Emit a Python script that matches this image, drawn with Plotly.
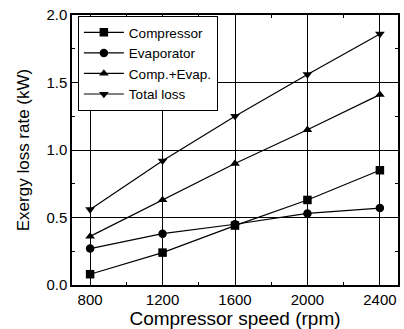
import plotly.graph_objects as go

speed = [800, 1200, 1600, 2000, 2400]
compressor = [0.08, 0.24, 0.44, 0.63, 0.85]
evaporator = [0.27, 0.38, 0.45, 0.53, 0.57]
comp_evap = [0.36, 0.63, 0.90, 1.15, 1.41]
total_loss = [0.56, 0.92, 1.25, 1.56, 1.86]

series = [
    ("Compressor", compressor, "square"),
    ("Evaporator", evaporator, "circle"),
    ("Comp.+Evap.", comp_evap, "triangle-up"),
    ("Total loss", total_loss, "triangle-down"),
]

fig = go.Figure()
for name, vals, sym in series:
    fig.add_trace(go.Scatter(
        x=speed, y=vals, name=name, mode="lines+markers",
        line=dict(color="black", width=1.2),
        marker=dict(symbol=sym, size=8.5, color="black"),
    ))

font = "Liberation Sans, Arial, sans-serif"
fig.update_layout(
    width=404, height=329,
    margin=dict(l=72, r=4, t=15, b=44),
    paper_bgcolor="white", plot_bgcolor="white",
    font=dict(family=font, color="black", size=15),
    showlegend=True,
    legend=dict(
        x=0.018, y=0.996, xanchor="left", yanchor="top",
        bordercolor="black", borderwidth=1, bgcolor="white",
        font=dict(size=13.5), itemwidth=40, tracegroupgap=0,
    ),
    xaxis=dict(
        range=[700, 2500], tickvals=speed, ticktext=[str(s) for s in speed],
        showgrid=True, gridcolor="black", gridwidth=1,
        showline=True, linecolor="black", linewidth=1.5, mirror="ticks",
        ticks="inside", ticklen=5, tickcolor="black",
        minor=dict(ticks="inside", ticklen=3, dtick=200, tick0=800, tickcolor="black", showgrid=False),
        zeroline=False,
        title=dict(text="Compressor speed (rpm)", font=dict(size=19), standoff=1),
        tickfont=dict(size=15),
    ),
    yaxis=dict(
        range=[0, 2.0], dtick=0.5, tickformat=".1f",
        showgrid=True, gridcolor="black", gridwidth=1,
        showline=True, linecolor="black", linewidth=1.5, mirror="ticks",
        ticks="inside", ticklen=5, tickcolor="black",
        minor=dict(ticks="inside", ticklen=3, dtick=0.25, tickcolor="black", showgrid=False),
        zeroline=False,
        title=dict(text="Exergy loss rate (kW)", font=dict(size=17), standoff=12),
        tickfont=dict(size=15),
    ),
)

fig.write_html("out.html", config={"displayModeBar": False},
               post_script="document.body.style.margin='0';")
